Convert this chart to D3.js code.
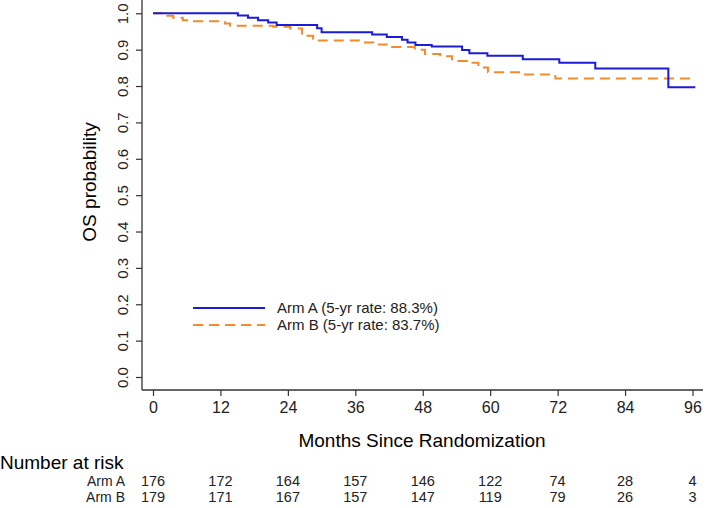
<!DOCTYPE html>
<html>
<head>
<meta charset="utf-8">
<script src="https://cdn.jsdelivr.net/npm/d3@7"></script>
<style>
  body { margin: 0; background: #fff; }
  svg { display: block; font-family: "Liberation Sans", Arial, sans-serif; }
</style>
</head>
<body>
<div id="chart"></div>
<script>
/* DATA */
// Kaplan-Meier steps (month, OS probability)
const armATime = [0, 15.1, 16.9, 18.7, 20.5, 22.0, 29.2, 30.0, 39.0, 41.6, 44.3, 45.3, 46.7, 49.6, 55.0, 56.3, 59.5, 65.8, 72.3, 78.7, 91.7, 96.5];
const armASurv = [1.000, 0.994, 0.988, 0.981, 0.975, 0.968, 0.959, 0.948, 0.942, 0.935, 0.927, 0.920, 0.913, 0.909, 0.899, 0.890, 0.883, 0.874, 0.864, 0.848, 0.797, 0.797];
const armBTime = [0, 2.2, 3.6, 5.3, 7.0, 12.8, 13.7, 21.4, 24.4, 26.5, 28.5, 29.5, 36.8, 39.2, 42.2, 46.6, 48.4, 51.1, 53.2, 55.9, 57.9, 59.6, 65.7, 71.6, 96.5];
const armBSurv = [1.000, 0.993, 0.988, 0.981, 0.978, 0.972, 0.966, 0.963, 0.958, 0.938, 0.929, 0.925, 0.920, 0.914, 0.907, 0.900, 0.888, 0.882, 0.869, 0.864, 0.851, 0.838, 0.832, 0.821, 0.821];

const xTicks = [0, 12, 24, 36, 48, 60, 72, 84, 96];
const yTicks = [0, 0.1, 0.2, 0.3, 0.4, 0.5, 0.6, 0.7, 0.8, 0.9, 1.0];
const riskA = [176, 172, 164, 157, 146, 122, 74, 28, 4];
const riskB = [179, 171, 167, 157, 147, 119, 79, 26, 3];

const seriesNames = ["Arm A (5-yr rate: 88.3%)", "Arm B (5-yr rate: 83.7%)"];

/* CONSTANTS */
const width = 709, height = 508;
const blue = "#1c1cd6", orange = "#f28a2e";
const axisLeftX = 142, axisBottomY = 390;

const svg = d3.select("#chart").append("svg")
  .attr("width", width)
  .attr("height", height);

//SCALES
const xScale = d3.scaleLinear().domain([0, 96]).range([153, 692.5]);
const yScale = d3.scaleLinear().domain([0, 1]).range([377, 13.3]);

//AXES
const yAxis = svg.append("g").attr("transform", `translate(${axisLeftX},0)`)
  .call(d3.axisLeft(yScale).tickValues(yTicks).tickFormat(d3.format(".1f")).tickSize(6).tickSizeOuter(0));
yAxis.select(".domain").remove();
yAxis.append("line").attr("y1", 0).attr("y2", axisBottomY).attr("stroke", "#333").attr("stroke-width", 1.3);
yAxis.selectAll(".tick line").attr("stroke", "#333").attr("stroke-width", 1.2);
yAxis.selectAll(".tick text")
  .attr("x", null).attr("dy", null)
  .attr("transform", "translate(-14,0) rotate(-90)")
  .attr("text-anchor", "middle")
  .attr("fill", "#222")
  .style("font-size", "15px");

const xAxis = svg.append("g").attr("transform", `translate(0,${axisBottomY})`)
  .call(d3.axisBottom(xScale).tickValues(xTicks).tickSize(6).tickSizeOuter(0));
xAxis.select(".domain").remove();
xAxis.append("line").attr("x1", axisLeftX).attr("x2", 703).attr("stroke", "#333").attr("stroke-width", 1.3);
xAxis.selectAll(".tick line").attr("stroke", "#333").attr("stroke-width", 1.2);
xAxis.selectAll(".tick text")
  .attr("y", 12)
  .attr("fill", "#222")
  .style("font-size", "16px");

// axis titles
svg.append("text")
  .attr("transform", "translate(96,182) rotate(-90)")
  .attr("text-anchor", "middle")
  .style("font-size", "19px")
  .text("OS probability");

svg.append("text")
  .attr("x", 422).attr("y", 447)
  .attr("text-anchor", "middle")
  .style("font-size", "19px")
  .text("Months Since Randomization");

//CURVES
const line = d3.line()
  .x(d => xScale(d[0]))
  .y(d => yScale(d[1]))
  .curve(d3.curveStepAfter);

svg.append("path")
  .datum(d3.zip(armBTime, armBSurv))
  .attr("fill", "none")
  .attr("stroke", orange)
  .attr("stroke-width", 2)
  .attr("stroke-dasharray", "10,6")
  .attr("d", line);

svg.append("path")
  .datum(d3.zip(armATime, armASurv))
  .attr("fill", "none")
  .attr("stroke", blue)
  .attr("stroke-width", 2)
  .attr("d", line);

//LEGEND
const legend = svg.append("g");
[[blue, null], [orange, "10,6"]].forEach(([col, dash], i) => {
  const y = 308 + i * 17;
  legend.append("line")
    .attr("x1", 193).attr("x2", 265).attr("y1", y).attr("y2", y)
    .attr("stroke", col).attr("stroke-width", 2)
    .attr("stroke-dasharray", dash);
  legend.append("text")
    .attr("x", 277).attr("y", y + 5)
    .style("font-size", "15px")
    .attr("fill", "#222")
    .text(seriesNames[i]);
});

//RISK TABLE
svg.append("text")
  .attr("x", 0).attr("y", 469)
  .style("font-size", "19px")
  .text("Number at risk");

[["Arm A", riskA, 486], ["Arm B", riskB, 502]].forEach(([name, vals, y]) => {
  svg.append("text")
    .attr("x", 125).attr("y", y)
    .attr("text-anchor", "end")
    .style("font-size", "14px")
    .attr("fill", "#222")
    .text(name);
  svg.selectAll(null)
    .data(vals)
    .join("text")
    .attr("x", (d, i) => xScale(xTicks[i]))
    .attr("y", y)
    .attr("text-anchor", "middle")
    .style("font-size", "14.5px")
    .attr("fill", "#222")
    .text(d => d);
});
</script>
</body>
</html>
